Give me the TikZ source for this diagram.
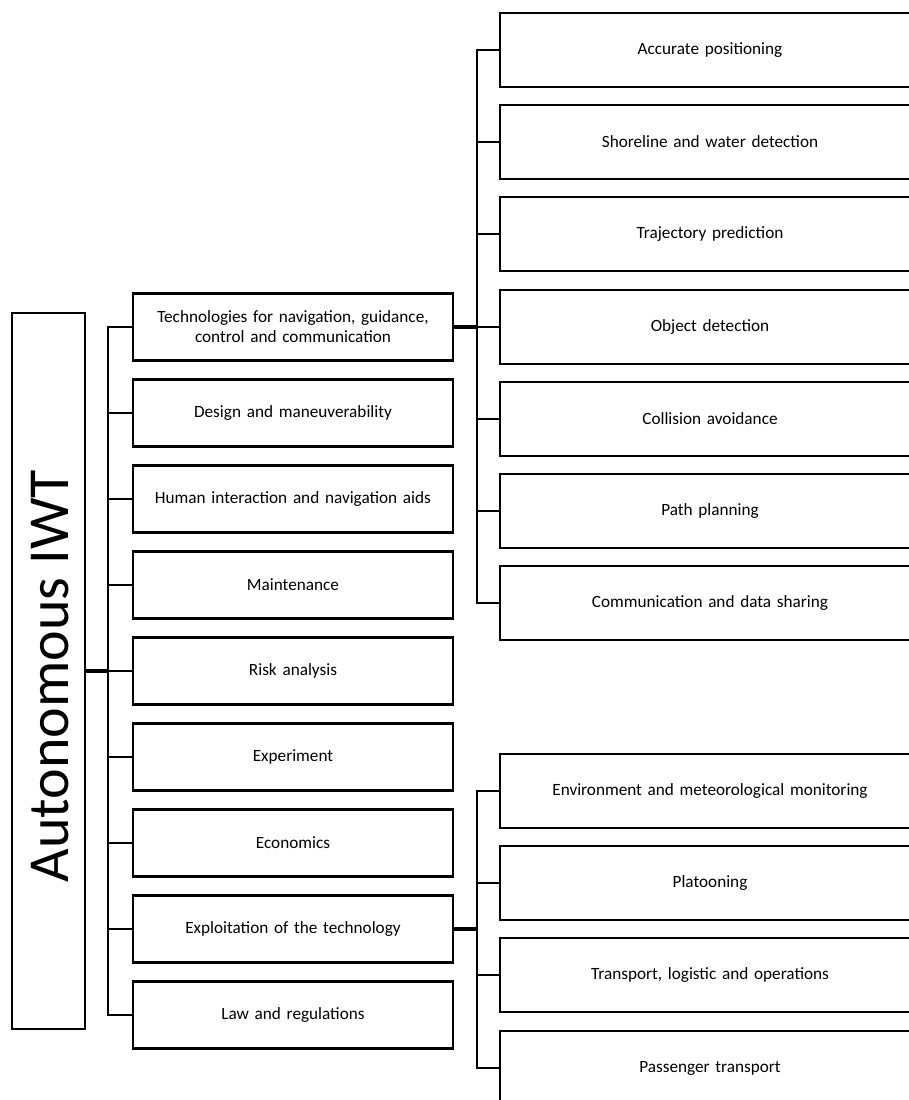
\documentclass[tikz,border=0pt]{standalone}
\usepackage{fontspec}
\setmainfont{Carlito}
\usetikzlibrary{positioning}

\begin{document}
\begin{tikzpicture}[x=1pt, y=-1pt,
        rootbox/.style = {draw, line width=2.2pt, minimum width=73pt, minimum height=716pt, inner sep=0pt},
        topic/.style = {draw, line width=2.2pt, minimum width=320pt, minimum height=67pt, text width=310pt, align=center, inner sep=0pt, font=\fontsize{17.2}{20}\selectfont},
        subtopic/.style = {draw, line width=2.2pt, minimum width=420pt, minimum height=74pt, text width=400pt, align=center, inner sep=0pt, font=\fontsize{17.2}{20}\selectfont},
        trunk/.style = {line width=2pt},
        feed/.style = {line width=3.2pt},
        branch/.style = {line width=1.3pt}
        ]
        \useasboundingbox (0,0) rectangle (909,1100);
        \clip (0,0) rectangle (909,1100);

        \node[rootbox] (root) at (48.5,671) {};
        \node[rotate=90, font=\fontsize{58}{58}\selectfont] (roottitle) at (50,676) {Autonomous IWT};

        \node[topic] (m1) at (293,327) {Technologies for navigation, guidance,\\control and communication};
        \node[topic] (m2) at (293,413) {Design and maneuverability};
        \node[topic] (m3) at (293,499) {Human interaction and navigation aids};
        \node[topic] (m4) at (293,585) {Maintenance};
        \node[topic] (m5) at (293,671) {Risk analysis};
        \node[topic] (m6) at (293,757) {Experiment};
        \node[topic] (m7) at (293,843) {Economics};
        \node[topic] (m8) at (293,929) {Exploitation of the technology};
        \node[topic] (m9) at (293,1015) {Law and regulations};

        \node[subtopic] (a1) at (710,50) {Accurate positioning};
        \node[subtopic] (a2) at (710,142) {Shoreline and water detection};
        \node[subtopic] (a3) at (710,234) {Trajectory prediction};
        \node[subtopic] (a4) at (710,327) {Object detection};
        \node[subtopic] (a5) at (710,419) {Collision avoidance};
        \node[subtopic] (a6) at (710,511) {Path planning};
        \node[subtopic] (a7) at (710,603) {Communication and data sharing};

        \node[subtopic] (b1) at (710,791) {Environment and meteorological monitoring};
        \node[subtopic] (b2) at (710,883) {Platooning};
        \node[subtopic] (b3) at (710,975) {Transport, logistic and operations};
        \node[subtopic] (b4) at (710,1068) {Passenger transport};

        \coordinate (j) at (108,671);
        \coordinate (k1) at (477,327);
        \coordinate (k2) at (477,929);

        \draw[trunk] (m1.west) -| (j) |- (m9.west);
        \draw[feed] (root.east) -- (j);
        \draw[branch] (m2.west) -- (m2.west -| j);
        \draw[branch] (m3.west) -- (m3.west -| j);
        \draw[branch] (m4.west) -- (m4.west -| j);
        \draw[branch] (m5.west) -- (m5.west -| j);
        \draw[branch] (m6.west) -- (m6.west -| j);
        \draw[branch] (m7.west) -- (m7.west -| j);
        \draw[branch] (m8.west) -- (m8.west -| j);

        \draw[trunk] (a1.west) -| (k1) |- (a7.west);
        \draw[feed] (m1.east) -- (k1);
        \draw[branch] (a2.west) -- (a2.west -| k1);
        \draw[branch] (a3.west) -- (a3.west -| k1);
        \draw[branch] (a4.west) -- (a4.west -| k1);
        \draw[branch] (a5.west) -- (a5.west -| k1);
        \draw[branch] (a6.west) -- (a6.west -| k1);

        \draw[trunk] (b1.west) -| (k2) |- (b4.west);
        \draw[feed] (m8.east) -- (k2);
        \draw[branch] (b2.west) -- (b2.west -| k2);
        \draw[branch] (b3.west) -- (b3.west -| k2);
    \end{tikzpicture}
\end{document}
